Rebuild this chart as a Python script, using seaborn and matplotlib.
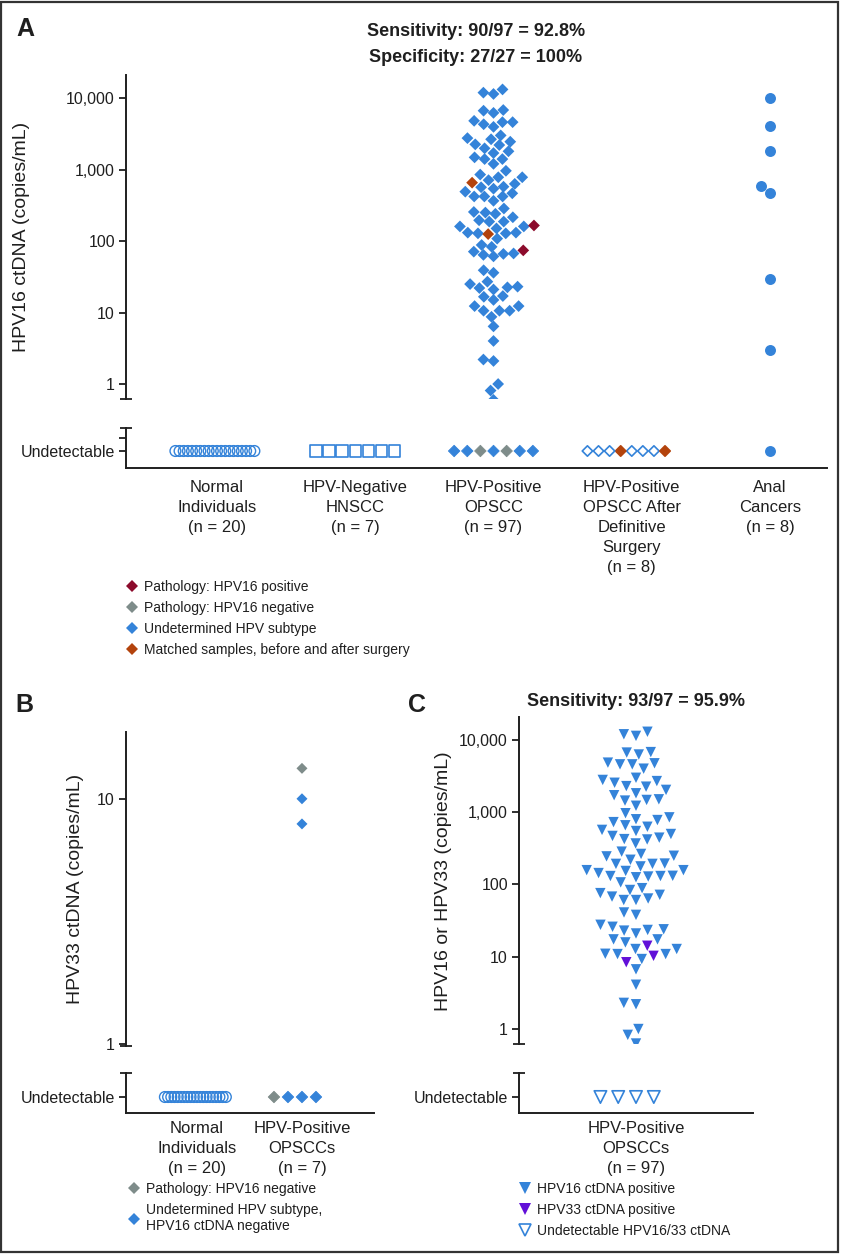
import numpy as np
import pandas as pd
import seaborn as sns
import matplotlib.pyplot as plt
import matplotlib.colors as mcolors
from matplotlib.lines import Line2D
from matplotlib.patches import Rectangle
from matplotlib.ticker import FixedLocator, NullFormatter

sns.set_theme(style="ticks")
plt.rcParams['font.family'] = ['Liberation Sans', 'DejaVu Sans']

BLUE = '#3483D9'
GRAY = '#7E8C8A'
DARKRED = '#8C0B2C'
ORANGE = '#B3430C'
PURPLE = '#6210D8'
INK = '#1f1f1f'

# ---------------- data ----------------
groups_a = ["Normal\nIndividuals\n(n = 20)", "HPV-Negative\nHNSCC\n(n = 7)",
            "HPV-Positive\nOPSCC\n(n = 97)",
            "HPV-Positive\nOPSCC After\nDefinitive\nSurgery\n(n = 8)",
            "Anal\nCancers\n(n = 8)"]
groups_b = ["Normal\nIndividuals\n(n = 20)", "HPV-Positive\nOPSCCs\n(n = 7)"]
groups_c = ["HPV-Positive\nOPSCCs\n(n = 97)"]

# panel A, HPV16 ctDNA copies/mL, HPV-positive OPSCC (detected)
opscc_undetermined = [11900, 11400, 13200, 6800, 6200, 6650,
                      4600, 4300, 3950, 4600, 4800,
                      3000, 2650, 2450, 2750, 2250, 2200,
                      1800, 1480, 1400, 1400, 1700, 1980, 1200,
                      960, 780, 780, 710, 850, 630,
                      565, 490, 420, 420, 420, 465, 540, 575, 365,
                      285, 250, 240, 215, 255, 195,
                      187, 160, 160, 131, 128, 128, 131, 150, 187,
                      108, 83, 66, 64, 71, 67, 61, 88,
                      36, 39, 27, 23, 22, 17, 16.6, 21, 22.5, 25,
                      15, 12.3, 10.6, 8.7, 10.6, 10.6, 12.3,
                      6.4, 4.0, 2.1, 2.2, 1.0, 0.81, 0.6]
opscc_path_pos = [165, 74]
opscc_matched = [655, 125]
anal_values = [10100, 4100, 1830, 590, 475, 29, 3.0]

# undetectable rows, marker style of each point from left to right
undet_normal_a = ['open'] * 20
undet_hnscc = ['open'] * 7
undet_opscc_a = ['blue', 'blue', 'gray', 'blue', 'gray', 'blue', 'blue']
undet_after_surgery = ['open', 'open', 'open', 'orange', 'open', 'open', 'open', 'orange']
undet_anal = ['blue']

# panel B, HPV33 ctDNA
b_values = [13.3, 10, 7.9]
b_kinds = ['gray', 'blue', 'blue']
undet_normal_b = ['open'] * 20
undet_opscc_b = ['gray', 'blue', 'blue', 'blue']

# panel C, HPV16 or HPV33
c_hpv16 = [12000, 11400, 13000, 6700, 6300, 6800,
           4860, 4600, 4010, 4600, 4760,
           3000, 2700, 2300, 2260, 2560, 2800,
           2040, 1720, 1480, 1230, 1450, 1510, 1830,
           970, 800, 730, 660, 780, 850,
           630, 550, 470, 420, 370, 425, 445, 500, 570,
           285, 250, 220, 193, 193, 195, 245, 265,
           178, 158, 144, 131, 129, 107, 126, 132, 131, 154, 158,
           89, 76, 68, 61, 61, 64, 72, 84,
           41, 38, 26, 23.5, 21, 27.7, 23, 24,
           17.4, 15.8, 17.4, 12.8, 11.0, 9.3, 10.9, 10.9, 12.8,
           6.7, 4.1, 2.2, 2.3, 1.0, 0.83, 0.63]
c_hpv33 = [14.2, 10.3, 8.4]
undet_c = ['open'] * 4

ROW_STYLE = {'open': ('none', BLUE), 'blue': (BLUE, BLUE),
             'gray': (GRAY, GRAY), 'orange': (ORANGE, ORANGE)}

# ---------------- layout helpers ----------------
W, H = 841, 1254


def box(x0, y0, x1, y1):
    return [x0 / W, 1 - y1 / H, (x1 - x0) / W, (y1 - y0) / H]


def fxy(x, y):
    return x / W, 1 - y / H


fig = plt.figure(figsize=(W / 100, H / 100), dpi=100)

axA = fig.add_axes(box(126, 75, 827, 399))
axA0 = fig.add_axes(box(126, 428, 827, 468))
axB = fig.add_axes(box(126, 732, 374, 1046))
axB0 = fig.add_axes(box(126, 1073, 374, 1113))
axC = fig.add_axes(box(519, 717, 753, 1044))
axC0 = fig.add_axes(box(519, 1073, 753, 1113))

rows = []     # undetectable rows: restyled per point after the swarm layout
resized = []  # detected swarms: laid out with a wider spacing, drawn smaller


def new_collections(ax, n0):
    return [c for c in ax.collections[n0:] if len(c.get_offsets())]


def undetectable_row(ax, group, order, kinds, marker, layout, size, lw):
    n0 = len(ax.collections)
    sns.swarmplot(x=[group] * len(kinds), y=[0] * len(kinds), order=order,
                  color=BLUE, marker=marker, size=layout, linewidth=0, ax=ax)
    for coll in new_collections(ax, n0):
        rows.append((coll, kinds, size, lw))


# ---------------- panel A ----------------
dfA = pd.DataFrame({
    'group': groups_a[2],
    'value': opscc_undetermined + opscc_path_pos + opscc_matched,
    'kind': ['undetermined'] * len(opscc_undetermined) + ['path_pos'] * len(opscc_path_pos)
            + ['matched'] * len(opscc_matched),
})
n0 = len(axA.collections)
sns.swarmplot(data=dfA, x='group', y='value', hue='kind', order=groups_a,
              hue_order=['undetermined', 'path_pos', 'matched'],
              palette={'undetermined': BLUE, 'path_pos': DARKRED, 'matched': ORANGE},
              marker='D', size=7, linewidth=0, log_scale=True, legend=False, ax=axA)
resized += [(c, 36) for c in new_collections(axA, n0)]
sns.swarmplot(x=[groups_a[4]] * len(anal_values), y=anal_values, order=groups_a,
              color=BLUE, marker='o', size=7.9, linewidth=0, log_scale=True, ax=axA)

undetectable_row(axA0, groups_a[0], groups_a, undet_normal_a, 'o', 2.85, 60, 1.0)
undetectable_row(axA0, groups_a[1], groups_a, undet_hnscc, 's', 9.0, 66, 1.2)
undetectable_row(axA0, groups_a[2], groups_a, undet_opscc_a, 'D', 9.0, 34, 0.6)
undetectable_row(axA0, groups_a[3], groups_a, undet_after_surgery, 'D', 7.6, 28, 1.2)
undetectable_row(axA0, groups_a[4], groups_a, undet_anal, 'o', 7.9, 62, 0)

# ---------------- panel B ----------------
dfB = pd.DataFrame({'group': groups_b[1], 'value': b_values, 'kind': b_kinds})
sns.swarmplot(data=dfB, x='group', y='value', hue='kind', order=groups_b,
              palette={'gray': GRAY, 'blue': BLUE}, marker='D', size=5.6,
              linewidth=0, log_scale=True, legend=False, ax=axB)
undetectable_row(axB0, groups_b[0], groups_b, undet_normal_b, 'o', 2.2, 60, 1.0)
undetectable_row(axB0, groups_b[1], groups_b, undet_opscc_b, 'D', 9.6, 34, 0.6)

# ---------------- panel C ----------------
dfC = pd.DataFrame({'group': groups_c[0], 'value': c_hpv16 + c_hpv33,
                    'kind': ['hpv16'] * len(c_hpv16) + ['hpv33'] * len(c_hpv33)})
n0 = len(axC.collections)
sns.swarmplot(data=dfC, x='group', y='value', hue='kind', order=groups_c,
              palette={'hpv16': BLUE, 'hpv33': PURPLE}, marker='v', size=8.4,
              linewidth=0, log_scale=True, legend=False, ax=axC)
resized += [(c, 56) for c in new_collections(axC, n0)]
undetectable_row(axC0, groups_c[0], groups_c, undet_c, 'v', 12.2, 80, 1.2)


# ---------------- axes styling ----------------
def style_common(ax, xlim, ylim, ticks, labels, cap):
    ax.set_xlim(*xlim)
    ax.set_ylim(*ylim)
    ax.set_xlabel('')
    ax.set_ylabel('')
    ax.set_yticks(ticks)
    ax.set_yticklabels(labels)
    ax.yaxis.set_minor_locator(FixedLocator([cap]))
    ax.yaxis.set_minor_formatter(NullFormatter())
    ax.spines[['top', 'right']].set_visible(False)
    for s in ['left', 'bottom']:
        ax.spines[s].set_linewidth(1.4)
        ax.spines[s].set_color(INK)
    ax.tick_params(axis='y', which='major', direction='out', length=5, width=1.3,
                   color=INK, labelsize=11.5, labelcolor=INK, pad=3)
    ax.tick_params(axis='y', which='minor', direction='inout', length=8.5, width=1.3, color=INK)


def style_upper(ax, xlim, ylim, ticks, labels):
    style_common(ax, xlim, ylim, ticks, labels, ylim[0])
    ax.spines['bottom'].set_visible(False)
    ax.tick_params(axis='x', bottom=False, labelbottom=False)


def style_lower(ax, xlim, ylim, ticks, labels, pad):
    style_common(ax, xlim, ylim, ticks, labels, ylim[1])
    ax.tick_params(axis='x', length=0, pad=pad, labelsize=12, labelcolor=INK)
    for lab in ax.get_xticklabels():
        lab.set_linespacing(1.4)


log_ticks = [1, 10, 100, 1000, 10000]
log_labels = ['1', '10', '100', '1,000', '10,000']
style_upper(axA, (-0.658, 4.412), (0.617, 21000), log_ticks, log_labels)
style_lower(axA0, (-0.658, 4.412), (-17, 23), [0, 13], ['Undetectable', ''], 9)
style_upper(axB, (-0.676, 1.686), (0.985, 18.7), [1, 10], ['1', '10'])
style_lower(axB0, (-0.676, 1.686), (-16, 24), [0], ['Undetectable'], 6)
style_upper(axC, (-0.5, 0.5), (0.62, 20800), log_ticks, log_labels)
style_lower(axC0, (-0.5, 0.5), (-16, 24), [0], ['Undetectable'], 6)

# ---------------- texts ----------------
fig.text(*fxy(16, 29), 'A', ha='left', va='center', fontsize=18, fontweight='bold', color=INK)
fig.text(*fxy(15, 705), 'B', ha='left', va='center', fontsize=18, fontweight='bold', color=INK)
fig.text(*fxy(408, 705), 'C', ha='left', va='center', fontsize=18, fontweight='bold', color=INK)

fig.text(*fxy(476, 32), 'Sensitivity: 90/97 = 92.8%', ha='center', va='center',
         fontsize=13, fontweight='bold', color=INK)
fig.text(*fxy(476, 58), 'Specificity: 27/27 = 100%', ha='center', va='center',
         fontsize=13, fontweight='bold', color=INK)
fig.text(*fxy(636, 701), 'Sensitivity: 93/97 = 95.9%', ha='center', va='center',
         fontsize=13, fontweight='bold', color=INK)

fig.text(*fxy(22, 237), 'HPV16 ctDNA (copies/mL)', rotation=90, ha='center', va='center',
         fontsize=14, color=INK)
fig.text(*fxy(76, 889), 'HPV33 ctDNA (copies/mL)', rotation=90, ha='center', va='center',
         fontsize=14, color=INK)
fig.text(*fxy(443, 881), 'HPV16 or HPV33 (copies/mL)', rotation=90, ha='center', va='center',
         fontsize=14, color=INK)


# ---------------- legends ----------------
def add_legend(entries, x, y):
    handles, labels = [], []
    for marker, face, edge, ms, label in entries:
        handles.append(Line2D([], [], ls='', marker=marker, markersize=ms,
                              markerfacecolor=face, markeredgecolor=edge,
                              markeredgewidth=1.2 if face == 'none' else 0))
        labels.append(label)
    fig.legend(handles, labels, loc='upper left', bbox_to_anchor=fxy(x, y),
               frameon=False, borderpad=0, borderaxespad=0, handlelength=1.0,
               handletextpad=0.4, labelspacing=0.5, fontsize=10, labelcolor=INK)


add_legend([('D', DARKRED, DARKRED, 6, 'Pathology: HPV16 positive'),
            ('D', GRAY, GRAY, 6, 'Pathology: HPV16 negative'),
            ('D', BLUE, BLUE, 6, 'Undetermined HPV subtype'),
            ('D', ORANGE, ORANGE, 6, 'Matched samples, before and after surgery')],
           125, 580)
add_legend([('D', GRAY, GRAY, 6, 'Pathology: HPV16 negative'),
            ('D', BLUE, BLUE, 6, 'Undetermined HPV subtype,\nHPV16 ctDNA negative')],
           127, 1182)
add_legend([('v', BLUE, BLUE, 8.5, 'HPV16 ctDNA positive'),
            ('v', PURPLE, PURPLE, 8.5, 'HPV33 ctDNA positive'),
            ('v', 'none', BLUE, 8.5, 'Undetectable HPV16/33 ctDNA')],
           518, 1182)

fig.add_artist(Rectangle((1 / W, 2 / H), 837 / W, 1250 / H, transform=fig.transFigure,
                         fill=False, edgecolor='#333333', linewidth=1.6))

# ---------------- run the swarm layout once, then freeze and restyle ----------------
fig.canvas.draw()
for coll, size in resized:
    coll.__dict__.pop('draw', None)
    coll.set_sizes([size])
for coll, kinds, size, lw in rows:
    coll.__dict__.pop('draw', None)
    order = np.argsort(coll.get_offsets()[:, 0], kind='stable')
    faces = [None] * len(kinds)
    edges = [None] * len(kinds)
    for rank, idx in enumerate(order):
        f, e = ROW_STYLE[kinds[rank]]
        faces[idx] = mcolors.to_rgba(f)
        edges[idx] = mcolors.to_rgba(e)
    coll.set_facecolors(faces)
    coll.set_edgecolors(edges)
    coll.set_sizes([size])
    coll.set_linewidths([lw])

fig.savefig('out.png', dpi=100)
